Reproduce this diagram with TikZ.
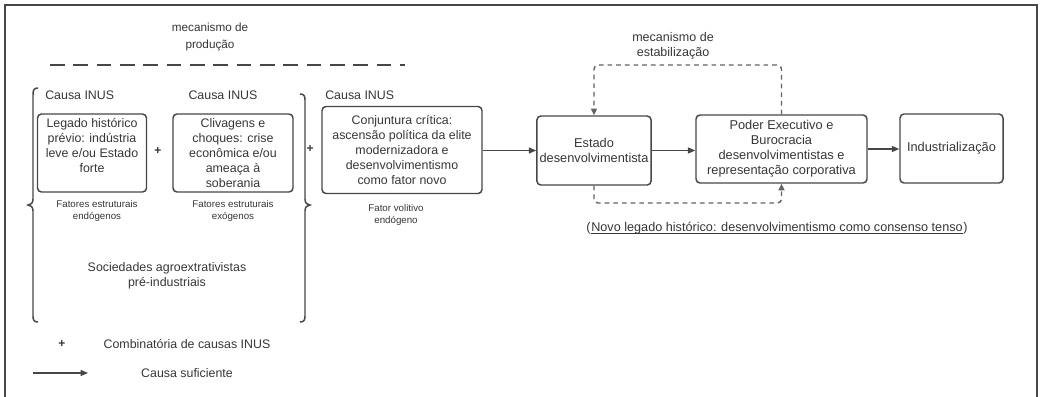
\documentclass[tikz,border=0pt]{standalone}
\usepackage{fontspec}
\setmainfont{Liberation Sans}
\usetikzlibrary{arrows.meta}
\definecolor{txt}{HTML}{363636}
\definecolor{ln}{HTML}{474747}
\tikzset{
  box/.style={draw=ln, line width=1.1pt, rounded corners=3pt, align=center, inner sep=2pt,
    font=\fontsize{9.3}{11.2}\selectfont, text=txt},
  rbox/.style={box, font=\fontsize{9.6}{11.2}\selectfont},
  lbl/.style={align=center, inner sep=0pt, font=\fontsize{9.3}{11.2}\selectfont, text=txt},
  small/.style={align=center, inner sep=0pt, font=\fontsize{7.3}{9}\selectfont, text=txt},
  arr/.style={draw=ln, line width=0.9pt, -{Triangle[length=5.5pt,width=4.5pt]}},
  dloop/.style={draw=ln!85, line width=1.1pt, dash pattern=on 3.5pt off 3pt, rounded corners=3pt},
  brace/.style={draw=ln, line width=1.1pt},
}
\begin{document}
\begin{tikzpicture}[x=0.75pt,y=-0.75pt]
\useasboundingbox (0,0) rectangle (1041,396);
% frame
\draw[ln, line width=1.5pt] (5,5) rectangle (1037,402);

% production mechanism
\node[lbl, font=\fontsize{8.8}{13.2}\selectfont] (prod) at (210,37) {mecanismo de\\produção};
\coordinate (dl) at (50,65);
\coordinate (dr) at (405,65);
\draw[ln, line width=1.5pt, dash pattern=on 11pt off 6.5pt] (dl) -- (dr);

% INUS labels
\node[lbl, anchor=west] (c1) at (45,95) {Causa INUS};
\node[lbl] (c2) at (223,95) {Causa INUS};
\node[lbl, anchor=west] (c3) at (325,95) {Causa INUS};

% boxes
\node[box, minimum width=81.75pt, minimum height=58.5pt] (b1) at (92,153)
  {Legado histórico\\prévio: indústria\\leve e/ou Estado\\forte\\\mbox{}};
\node[box, minimum width=90pt, minimum height=58.5pt] (b2) at (233,153)
  {Clivagens e\\choques: crise\\econômica e/ou\\ameaça à\\soberania};
\node[box, minimum width=120pt, minimum height=65.25pt] (b3) at (402,150)
  {Conjuntura crítica:\\ascensão política da elite\\modernizadora e\\desenvolvimentismo\\como fator novo};
\node[rbox, minimum width=85.5pt, minimum height=51.75pt] (est) at (594,150.5)
  {Estado\\desenvolvimentista};
\node[rbox, minimum width=128.25pt, minimum height=51pt] (pod) at (781.5,149)
  {Poder Executivo e\\Burocracia\\desenvolvimentistas e\\representação corporativa};
\node[rbox, minimum width=77.25pt, minimum height=51.75pt] (ind) at (951.5,148.5)
  {Industrialização};

% plus signs
\node[lbl, font=\bfseries\fontsize{9}{10}\selectfont] (p1) at (158,151) {+};
\node[lbl, font=\bfseries\fontsize{9}{10}\selectfont] (p2) at (310,149) {+};

% braces
\draw[brace] (38,88) .. controls (34,88) and (33,90) .. (33,95) -- (33,199)
  .. controls (33,203) and (31,205) .. (28,205) .. controls (31,205) and (33,207) .. (33,211)
  -- (33,316) .. controls (33,320) and (34,322) .. (38,322);
\draw[brace] (300,94) .. controls (304,94) and (305,96) .. (305,100) -- (305,199)
  .. controls (305,203) and (307,205) .. (310,205) .. controls (307,205) and (305,207) .. (305,211)
  -- (305,316) .. controls (305,320) and (304,322) .. (300,322);

% factor labels
\node[small] (f1) at (97,211) {Fatores estruturais\\endógenos};
\node[small] (f2) at (233,211) {Fatores estruturais\\exógenos};
\node[small] (f3) at (396,215) {Fator volitivo\\endógeno};
\node[lbl] (soc) at (167,275.5) {Sociedades agroextrativistas\\pré-industriais};

% main arrows
\draw[arr] (b3.east |- est.west) -- (est.west);
\draw[arr] (est.east) -- (est.east -| pod.west);
\draw[arr] (pod.east) -- (pod.east -| ind.west);

% stabilization loop
\node[lbl, font=\fontsize{9.4}{11.5}\selectfont] (stab) at (673,45.5) {mecanismo de\\estabilização};
\coordinate (ltop) at (0,65);
\coordinate (lbot) at (0,203);
\draw[dloop, -{Triangle[length=5pt,width=4.5pt]}] (pod.north) -- (pod.north |- ltop) -- (ltop -| est.north) -- (est.north);
\draw[dloop, -{Triangle[length=5pt,width=4.5pt]}] (est.south) -- (est.south |- lbot) -- (lbot -| pod.south) -- (pod.south);

% new legacy
\node[lbl, font=\fontsize{9.5}{10}\selectfont] (novo) at (777,228)
  {Novo legado histórico: desenvolvimentismo como consenso tenso};
\node[lbl, font=\fontsize{9.5}{10}\selectfont, anchor=base east] (po) at (novo.base west) {(};
\node[lbl, font=\fontsize{9.5}{10}\selectfont, anchor=base west] (pc) at (novo.base east) {)};
\draw[txt, line width=0.55pt] ([yshift=-1.6pt]novo.base west) -- ([yshift=-1.6pt]novo.base east);

% legend
\node[lbl, font=\bfseries\fontsize{9}{10}\selectfont] (lp) at (62,344) {+};
\node[lbl] (lpt) at (187,344) {Combinatória de causas INUS};
\coordinate (la1) at (33,373);
\coordinate (la2) at (88,373);
\draw[arr] (la1) -- (la2);
\node[lbl] (lat) at (187,373) {Causa suficiente};
\end{tikzpicture}
\end{document}
